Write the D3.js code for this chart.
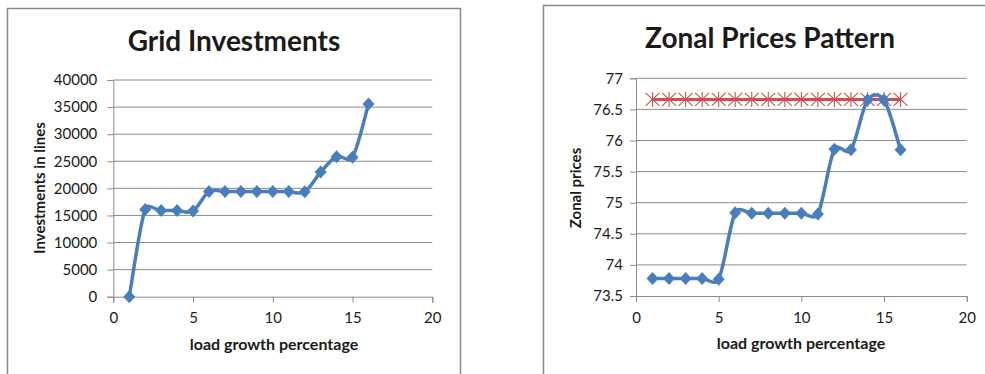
<!DOCTYPE html>
<html>
<head>
<meta charset="utf-8">
<script src="https://cdn.jsdelivr.net/npm/d3@7/dist/d3.min.js"></script>
<style>
  html, body { margin: 0; padding: 0; background: #ffffff; }
  svg { display: block; }
  text { font-family: Lato, "Open Sans", sans-serif; fill: #1a1a1a; }
</style>
</head>
<body>
<svg id="chart" width="985" height="374"></svg>
<script>
// Load growth steps (x values shared by both panels)
const loadGrowth = [1, 2, 3, 4, 5, 6, 7, 8, 9, 10, 11, 12, 13, 14, 15, 16];

// Grid investments in lines for each load growth step
const gridInvestments = [0, 16100, 15900, 15900, 15800, 19400, 19400, 19400,
                         19400, 19400, 19400, 19350, 23000, 25850, 25750, 35550];

// Zonal prices for each load growth step
const zonalPrices = [73.78, 73.78, 73.78, 73.78, 73.77, 74.84, 74.83, 74.83,
                     74.83, 74.83, 74.82, 75.86, 75.85, 76.65, 76.65, 75.85];

// Reference price level
const referencePrices = [76.66, 76.66, 76.66, 76.66, 76.66, 76.66, 76.66, 76.66,
                         76.66, 76.66, 76.66, 76.66, 76.66, 76.66, 76.66, 76.66];

// Axis tick values
const xTicks = [0, 5, 10, 15, 20];
const investmentTicks = [0, 5000, 10000, 15000, 20000, 25000, 30000, 35000, 40000];
const priceTicks = [73.5, 74, 74.5, 75, 75.5, 76, 76.5, 77];

const BLUE = "#4a7ebb";
const RED = "#c9514e";
const GRID = "#8c8c8c";

const svg = d3.select("#chart");

// Spreadsheet-style smoothed line: cubic Bezier segments whose handles are
// (next - previous) / 6, capped at half the length of the segment itself.
function smoothPath(pts) {
  const p = d3.path();
  const dist = (a, b) => Math.hypot(b[0] - a[0], b[1] - a[1]);
  p.moveTo(pts[0][0], pts[0][1]);
  for (let i = 0; i < pts.length - 1; i++) {
    const p0 = pts[Math.max(i - 1, 0)];
    const p1 = pts[i];
    const p2 = pts[i + 1];
    const p3 = pts[Math.min(i + 2, pts.length - 1)];
    const d12 = dist(p1, p2);
    const d02 = dist(p0, p2);
    const d13 = dist(p1, p3);
    let f1 = 1 / 6, f2 = 1 / 6;
    if (d02 / 6 > d12 / 2) f1 = (d12 / 2) / d02;
    if (d13 / 6 > d12 / 2) f2 = (d12 / 2) / d13;
    const c1 = [p1[0] + f1 * (p2[0] - p0[0]), p1[1] + f1 * (p2[1] - p0[1])];
    const c2 = [p2[0] - f2 * (p3[0] - p1[0]), p2[1] - f2 * (p3[1] - p1[1])];
    p.bezierCurveTo(c1[0], c1[1], c2[0], c2[1], p2[0], p2[1]);
  }
  return p.toString();
}

function panel(opts) {
  const g = svg.append("g");

  // chart frame (open at the bottom edge)
  g.append("path")
    .attr("d", `M${opts.frame[0]},${opts.frame[3]} V${opts.frame[1]} H${opts.frame[2]} V${opts.frame[3]}`)
    .attr("fill", "none").attr("stroke", "#8a8a8a").attr("stroke-width", 1.5);

  const x = d3.scaleLinear().domain([0, 20]).range(opts.xRange);
  const y = d3.scaleLinear().domain(opts.yDomain).range(opts.yRange);

  // horizontal gridlines
  g.append("g").selectAll("line").data(opts.yTicks.slice(1)).join("line")
    .attr("x1", opts.xRange[0]).attr("x2", opts.xRange[1])
    .attr("y1", d => y(d)).attr("y2", d => y(d))
    .attr("stroke", GRID).attr("stroke-width", 1);

  // y axis
  const yAxis = g.append("g")
    .attr("transform", `translate(${opts.xRange[0]},0)`)
    .call(d3.axisLeft(y).tickValues(opts.yTicks).tickSize(6).tickPadding(opts.yPad).tickFormat(d3.format("")));
  yAxis.select(".domain").attr("stroke", GRID);
  yAxis.selectAll(".tick line").attr("stroke", GRID);
  yAxis.selectAll(".tick text").style("font-size", "15px").attr("fill", "#1a1a1a");

  // x axis
  const xAxis = g.append("g")
    .attr("transform", `translate(0,${opts.yRange[0]})`)
    .call(d3.axisBottom(x).tickValues(xTicks).tickSize(6).tickPadding(10).tickFormat(d3.format("")));
  xAxis.select(".domain").attr("stroke", GRID);
  xAxis.selectAll(".tick line").attr("stroke", GRID);
  xAxis.selectAll(".tick text").style("font-size", "15px").attr("fill", "#1a1a1a");

  // titles
  g.append("text").attr("x", opts.titlePos[0]).attr("y", opts.titlePos[1])
    .attr("text-anchor", "middle").style("font-size", "28px").style("font-weight", "bold")
    .text(opts.title);
  g.append("text").attr("x", opts.xTitlePos[0]).attr("y", opts.xTitlePos[1])
    .attr("text-anchor", "middle").style("font-size", "16px").style("font-weight", "bold")
    .text("load growth percentage");
  g.append("text")
    .attr("transform", `translate(${opts.yTitlePos[0]},${opts.yTitlePos[1]}) rotate(-90)`)
    .attr("text-anchor", "middle").style("font-size", "15px").style("font-weight", "bold")
    .text(opts.yTitle);

  return { g, x, y };
}

function smoothSeries(p, values, color) {
  const pts = loadGrowth.map((d, i) => [p.x(d), p.y(values[i])]);
  p.g.append("path")
    .attr("fill", "none").attr("stroke", color).attr("stroke-width", 3.5)
    .attr("stroke-linejoin", "round")
    .attr("d", smoothPath(pts));
  p.g.append("g").selectAll("path").data(pts).join("path")
    .attr("transform", d => `translate(${d[0]},${d[1]})`)
    .attr("d", "M0,-6.5 L6,0 L0,6.5 L-6,0 Z")
    .attr("fill", color);
}

// Left panel: grid investments
const left = panel({
  frame: [7.5, 8.5, 460.5, 380],
  xRange: [113.3, 432.3],
  yDomain: [0, 40000],
  yRange: [296.7, 80],
  yTicks: investmentTicks,
  yPad: 10,
  title: "Grid Investments",
  titlePos: [234, 51],
  xTitlePos: [274, 350],
  yTitle: "Investments in lines",
  yTitlePos: [45, 188]
});
smoothSeries(left, gridInvestments, BLUE);

// Right panel: zonal prices
const right = panel({
  frame: [543.5, 5.5, 1000, 380],
  xRange: [636, 966.7],
  yDomain: [73.5, 77],
  yRange: [296, 78.3],
  yTicks: priceTicks,
  yPad: 7,
  title: "Zonal Prices Pattern",
  titlePos: [770, 48],
  xTitlePos: [801, 349],
  yTitle: "Zonal prices",
  yTitlePos: [581, 188]
});

// reference level: straight red line with asterisk markers
const refPts = loadGrowth.map((d, i) => [d, referencePrices[i]]);
right.g.append("path").datum(refPts)
  .attr("fill", "none").attr("stroke", RED).attr("stroke-width", 3)
  .attr("d", d3.line().x(d => right.x(d[0])).y(d => right.y(d[1])));
right.g.append("g").selectAll("path").data(refPts).join("path")
  .attr("transform", d => `translate(${right.x(d[0])},${right.y(d[1])})`)
  .attr("d", "M-7,-6.5 L7,6.5 M-7,6.5 L7,-6.5 M0,-7.5 L0,7.5")
  .attr("stroke", RED).attr("stroke-width", 1.1).attr("fill", "none");

smoothSeries(right, zonalPrices, BLUE);
</script>
</body>
</html>
